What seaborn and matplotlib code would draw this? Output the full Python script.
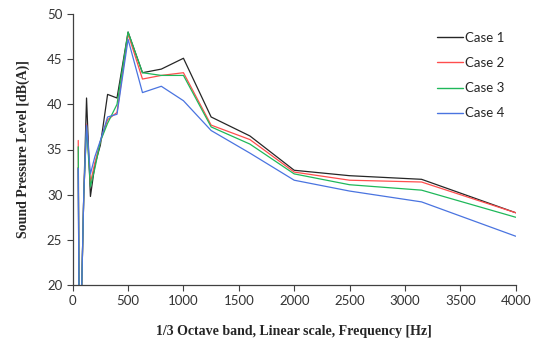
import numpy as np
import pandas as pd
import seaborn as sns
import matplotlib.pyplot as plt

# 1/3 octave band centre frequencies [Hz]
freqs = [50, 63, 80, 100, 125, 160, 200, 250, 315, 400, 500, 630, 800,
         1000, 1250, 1600, 2000, 2500, 3150, 4000]

# sound pressure levels [dB(A)], low bands below 20 are off the chart
case1 = [33.0, 5.0, 19.0, 30.0, 40.7, 29.8, 33.3, 35.5, 41.1, 40.7, 48.0, 43.5,
         43.9, 45.1, 38.6, 36.5, 32.7, 32.1, 31.7, 28.0]
case2 = [36.0, 5.0, 19.0, 30.0, 37.8, 31.3, 33.5, 35.9, 38.3, 39.1, 47.8, 42.8,
         43.2, 43.5, 37.7, 36.1, 32.5, 31.6, 31.4, 28.0]
case3 = [35.3, 5.0, 19.0, 30.0, 37.5, 30.9, 32.9, 35.9, 37.9, 40.0, 48.0, 43.5,
         43.2, 43.2, 37.5, 35.6, 32.3, 31.1, 30.5, 27.5]
case4 = [32.9, 5.0, 19.0, 30.0, 37.7, 32.3, 34.2, 36.0, 38.6, 38.9, 47.2, 41.3,
         42.0, 40.4, 37.1, 34.6, 31.6, 30.4, 29.2, 25.4]

cases = ['Case 1', 'Case 2', 'Case 3', 'Case 4']
colors = ['#262626', '#ff4d4d', '#1fb85a', '#4a74e0']

df = pd.concat([pd.DataFrame({'freq': freqs, 'spl': v, 'case': c})
                for c, v in zip(cases, [case1, case2, case3, case4])])

sns.set_style('ticks')
plt.rcParams['font.family'] = ['Lato', 'DejaVu Sans']

fig = plt.figure(figsize=(5.41, 3.41), dpi=100)
ax = fig.add_axes([72.7 / 541, 1 - 285 / 341, (515.7 - 72.7) / 541, (285 - 14) / 341])

sns.lineplot(df, x='freq', y='spl', hue='case', palette=dict(zip(cases, colors)),
             linewidth=0.9, ax=ax, sort=False)

ax.set_xlim(0, 4000)
ax.set_ylim(20, 50)
ax.set_xticks(np.arange(0, 4001, 500))
ax.set_yticks(np.arange(20, 51, 5))
ax.tick_params(labelsize=9.5, length=4, width=0.8, color='#404040', labelcolor='#333333')
for s in ['top', 'right']:
    ax.spines[s].set_visible(False)
for s in ['left', 'bottom']:
    ax.spines[s].set_color('#404040')
    ax.spines[s].set_linewidth(0.9)

ax.set_xlabel('1/3 Octave band, Linear scale, Frequency [Hz]',
              family='Liberation Serif', fontweight='bold', fontsize=10, labelpad=13)
ax.set_ylabel('Sound Pressure Level [dB(A)]',
              family='Liberation Serif', fontweight='bold', fontsize=10, labelpad=12)

leg = ax.legend(loc='upper left', bbox_to_anchor=(0.822, 0.934), frameon=False,
                borderaxespad=0, borderpad=0, fontsize=9.5, handlelength=2.0,
                handletextpad=0.15, labelspacing=1.0)
for line in leg.get_lines():
    line.set_linewidth(1.0)

fig.savefig('out.png', dpi=100)
